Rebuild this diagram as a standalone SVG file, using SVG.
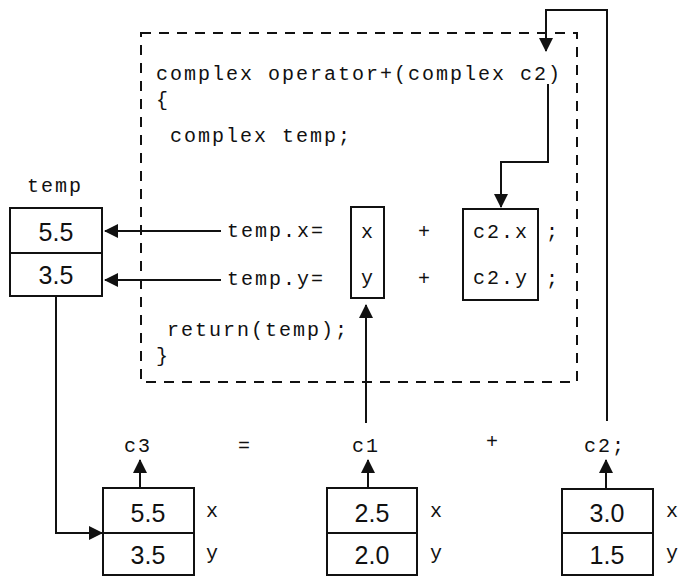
<svg xmlns="http://www.w3.org/2000/svg" width="680" height="576" viewBox="0 0 680 576">
<defs>
<style>
.code{font-family:"Liberation Mono","Courier New",monospace;font-size:20px;letter-spacing:2px;fill:#111}
.num{font-family:"Liberation Sans",Arial,sans-serif;font-size:25px;fill:#111;text-anchor:middle}
.box{fill:#fff;stroke:#111;stroke-width:2}
.ln{fill:none;stroke:#111;stroke-width:2}
.dash{fill:none;stroke:#111;stroke-width:2;stroke-dasharray:10 8}
</style>
<marker id="ah" markerUnits="userSpaceOnUse" markerWidth="14" markerHeight="14" refX="13" refY="7" orient="auto">
<path d="M0,0 L14,7 L0,14 z" fill="#111"/>
</marker>
</defs>
<rect id="fnbox" class="dash" x="141" y="33" width="436" height="349"/>
<g id="code">
<text class="code" x="156" y="80">complex operator+(complex c2)</text>
<text class="code" x="156" y="106">{</text>
<text class="code" x="170" y="142">complex temp;</text>
<text class="code" x="227" y="237">temp.x=</text>
<text class="code" x="227" y="285">temp.y=</text>
<text class="code" x="167" y="336">return(temp);</text>
<text class="code" x="156" y="362">}</text>
<text class="code" x="418" y="238">+</text>
<text class="code" x="418" y="285">+</text>
<text class="code" x="546" y="238">;</text>
<text class="code" x="546" y="285">;</text>
</g>
<g id="xybox">
<rect class="box" x="351" y="207" width="33" height="91"/>
<text class="code" x="361" y="238">x</text>
<text class="code" x="361" y="284">y</text>
</g>
<g id="c2box">
<rect class="box" x="463" y="209" width="75" height="91"/>
<text class="code" x="473" y="238">c2.x</text>
<text class="code" x="473" y="284">c2.y</text>
</g>
<g id="temp">
<text class="code" x="27" y="192">temp</text>
<rect class="box" x="10" y="208" width="92" height="45"/>
<rect class="box" x="10" y="253" width="92" height="43"/>
<text class="num" x="56" y="241">5.5</text>
<text class="num" x="56" y="284">3.5</text>
</g>
<g id="c3">
<text class="code" x="124" y="452">c3</text>
<rect class="box" x="103" y="488" width="91" height="45"/>
<rect class="box" x="103" y="533" width="91" height="42"/>
<text class="num" x="148" y="522">5.5</text>
<text class="num" x="148" y="564">3.5</text>
<text class="code" x="206" y="517">x</text>
<text class="code" x="206" y="559">y</text>
</g>
<g id="c1">
<text class="code" x="352" y="452">c1</text>
<rect class="box" x="327" y="488" width="90" height="45"/>
<rect class="box" x="327" y="533" width="90" height="42"/>
<text class="num" x="372" y="522">2.5</text>
<text class="num" x="372" y="564">2.0</text>
<text class="code" x="430" y="517">x</text>
<text class="code" x="430" y="559">y</text>
</g>
<g id="c2">
<text class="code" x="584" y="452">c2;</text>
<rect class="box" x="562" y="489" width="91" height="44"/>
<rect class="box" x="562" y="533" width="91" height="42"/>
<text class="num" x="607" y="522">3.0</text>
<text class="num" x="607" y="564">1.5</text>
<text class="code" x="666" y="517">x</text>
<text class="code" x="666" y="559">y</text>
</g>
<g id="ops">
<text class="code" x="238" y="452">=</text>
<text class="code" x="486" y="448">+</text>
</g>
<g id="connectors">
<polyline class="ln" points="607,421 607,10 546,10 546,51" marker-end="url(#ah)"/>
<polyline class="ln" points="548,84 548,162 501,162 501,207" marker-end="url(#ah)"/>
<line class="ln" x1="221" y1="231" x2="105" y2="231" marker-end="url(#ah)"/>
<line class="ln" x1="221" y1="280" x2="105" y2="280" marker-end="url(#ah)"/>
<line class="ln" x1="366" y1="423" x2="366" y2="305" marker-end="url(#ah)"/>
<polyline class="ln" points="56,296 56,533 102,533" marker-end="url(#ah)"/>
<line class="ln" x1="140" y1="488" x2="140" y2="460" marker-end="url(#ah)"/>
<line class="ln" x1="368" y1="488" x2="368" y2="460" marker-end="url(#ah)"/>
<line class="ln" x1="606" y1="489" x2="606" y2="460" marker-end="url(#ah)"/>
</g>
</svg>
